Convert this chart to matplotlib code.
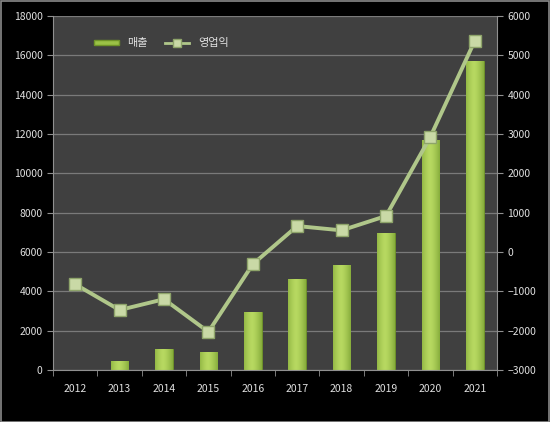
import matplotlib
matplotlib.use("Agg")
import matplotlib.pyplot as plt
import numpy as np
from matplotlib.lines import Line2D
from matplotlib.patches import Patch, Rectangle

plt.rcParams['font.family'] = ['Noto Sans CJK KR', 'DejaVu Sans']

years = ['2012', '2013', '2014', '2015', '2016', '2017', '2018', '2019', '2020', '2021']
sales = [0, 450, 1080, 920, 2950, 4610, 5340, 6970, 11690, 15710]
op_profit = [-820, -1475, -1200, -2030, -310, 660, 550, 915, 2930, 5370]

fig = plt.figure(figsize=(5.5, 4.22), dpi=100, facecolor='black')
fig.patches.append(Rectangle((0.001, 0.001), 0.997, 0.997, transform=fig.transFigure,
                             fill=False, edgecolor='#8a8a8a', linewidth=1.2))
ax = fig.add_axes([53/550, 1-370/422, (497-53)/550, (370-16)/422])
ax.set_facecolor('#404040')
x = np.arange(len(years))

bars = ax.bar(x, sales, width=0.4, color='#8cb33a', edgecolor='#6f9428', linewidth=0.6, zorder=2)
grad = np.linspace(0, 1, 64)
shade = 1 - 0.55 * (2 * np.abs(grad - 0.45)) ** 1.5
cmap_img = np.zeros((1, 64, 4))
base_light = np.array([0.72, 0.85, 0.38])
base_dark = np.array([0.42, 0.58, 0.15])
for i, s in enumerate(shade):
    cmap_img[0, i, :3] = base_dark + (base_light - base_dark) * s
    cmap_img[0, i, 3] = 1
for b in bars:
    if b.get_height() <= 0:
        continue
    x0, w, h = b.get_x(), b.get_width(), b.get_height()
    im = ax.imshow(cmap_img, extent=[x0, x0 + w, 0, h], aspect='auto', zorder=2.1, interpolation='bilinear')
    im.set_clip_path(b)

ax.set_xlim(-0.5, len(years) - 0.5)
ax.set_ylim(0, 18000)
ax.set_yticks(np.arange(0, 18001, 2000))
ax.set_xticks(x)
ax.set_xticklabels(years)
ax.set_xticks(np.arange(-0.5, len(years), 1), minor=True)
ax.tick_params(axis='x', which='major', length=0, colors='#e0e0e0', labelsize=7.5, pad=10)
ax.tick_params(axis='x', which='minor', length=4, color='#909090')
ax.tick_params(axis='y', length=4, color='#909090', colors='#e0e0e0', labelsize=7.5)
ax.grid(axis='y', color='#7a7a7a', linewidth=0.9, zorder=0)
ax.set_axisbelow(True)
for sp in ['top', 'right']:
    ax.spines[sp].set_visible(False)
ax.spines['left'].set_color('#909090')
ax.spines['bottom'].set_color('#909090')

ax2 = ax.twinx()
ax2.set_ylim(-3000, 6000)
ax2.set_yticks(np.arange(-3000, 6001, 1000))
ax2.tick_params(axis='y', length=4, color='#909090', colors='#e0e0e0', labelsize=7.5)
for sp in ['top', 'left', 'bottom']:
    ax2.spines[sp].set_visible(False)
ax2.spines['right'].set_color('#909090')
ax2.plot(x, op_profit, color='#b0c78a', linewidth=2.8, marker='s', markersize=9,
         markerfacecolor='#c9d9a6', markeredgecolor='#8ea46a', markeredgewidth=1, zorder=3)

handles = [Patch(facecolor='#9bc246', edgecolor='#6f9428'),
           Line2D([], [], color='#b0c78a', linewidth=2, marker='s', markersize=6,
                  markerfacecolor='#c9d9a6', markeredgecolor='#8ea46a')]
leg = ax.legend(handles, ['매출', '영업익'], loc='upper left', bbox_to_anchor=(0.07, 0.965),
                ncol=2, frameon=False, fontsize=8, labelcolor='#e0e0e0',
                handlelength=2.2, handleheight=0.4, columnspacing=1.5)

fig.savefig('out.png', dpi=100, facecolor='black')
